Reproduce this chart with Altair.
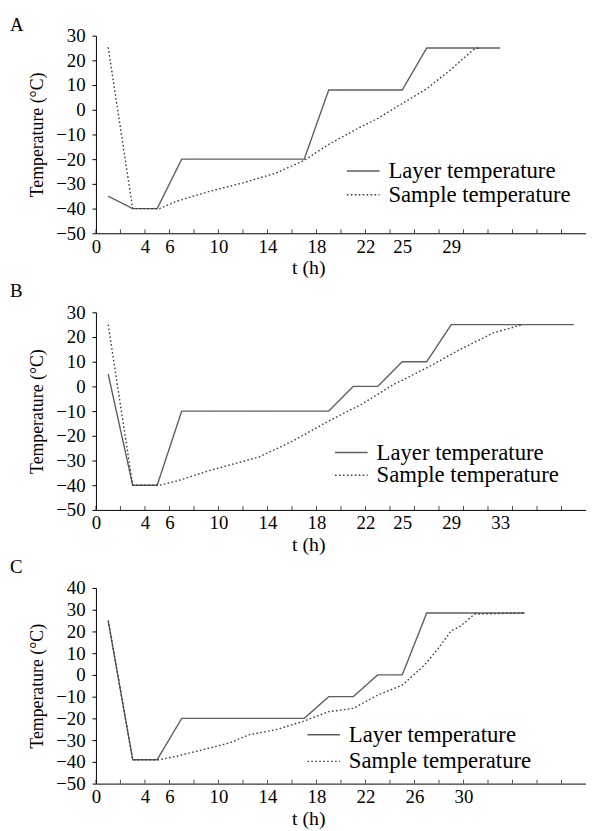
import altair as alt
import pandas as pd

FONT = "Liberation Serif"
SERIES = ["Layer temperature", "Sample temperature"]
TICK_HOURS = list(range(0, 40, 2))

# ---- Panel A ----
a_layer_t = [1, 3, 5, 7, 17, 19, 25, 27, 33]
a_layer_T = [-35, -40, -40, -20, -20, 8, 8, 25, 25]
a_sample_t = [1, 3, 5.2, 6.6, 9.3, 12, 14.7, 17, 19, 21.7, 23, 25, 27, 28.9, 30.8, 31.2]
a_sample_T = [25.3, -40, -40, -37, -33, -29.6, -25.6, -20.5, -14, -6.7, -3.5, 2.5, 8.5, 16, 24.3, 25]
a_xlabels = [0, 4, 6, 10, 14, 18, 22, 25, 29]

# ---- Panel B ----
b_layer_t = [1, 3, 5, 7, 19, 21, 23, 25, 27, 29, 39]
b_layer_T = [5, -40, -40, -10, -10, 0, 0, 10, 10, 25, 25]
b_sample_t = [1, 3, 5.2, 6.6, 9.3, 13.3, 16, 19, 21.7, 24.3, 27, 29.7, 32.4, 34.8]
b_sample_T = [25, -40, -40, -38.3, -34, -28.6, -22.3, -14, -7.2, 0.8, 7.5, 14.9, 21.6, 25]
b_xlabels = [0, 4, 6, 10, 14, 18, 22, 25, 29, 33]

# ---- Panel C ----
c_layer_t = [1, 3, 5, 7, 17, 19, 21, 23, 25, 27, 35]
c_layer_T = [25, -39, -39, -20, -20, -10, -10, 0, 0, 28.5, 28.5]
c_sample_t = [1, 3, 5.2, 6.6, 9.3, 10.9, 12.5, 14.7, 16.9, 19, 21, 23, 25, 26.8, 27.9, 29, 29.8, 30.9, 35]
c_sample_T = [25, -39, -39, -37.4, -33.6, -31.3, -27.5, -25.2, -21.4, -16.9, -15.4, -9.3, -4.7, 4.4, 11.9, 20.3, 22.6, 28, 28.5]
c_xlabels = [0, 4, 6, 10, 14, 18, 22, 26, 30]

W = 496


def panel(letter, lt, lT, st, sT, ydom, xlabels, H, legx, legy, rowh, toff):
    df = pd.DataFrame({
        "t": lt + st,
        "T": lT + sT,
        "series": [SERIES[0]] * len(lt) + [SERIES[1]] * len(st),
        "idx": list(range(len(lt))) + list(range(len(st))),
    })
    ticks_df = pd.DataFrame({"t": TICK_HOURS, "T": [ydom[0]] * len(TICK_HOURS)})
    yvals = list(range(ydom[0], ydom[1] + 1, 10))
    x = alt.X("t:Q", scale=alt.Scale(domain=[0, 40], nice=False, zero=False),
              axis=alt.Axis(values=xlabels, ticks=False, tickSize=0, labelPadding=4,
                            labelFont=FONT, labelFontSize=19, labelColor="black",
                            title="t (h)", titleX=215, titlePadding=2, titleFontSize=20,
                            titleFont=FONT, titleColor="black", titleFontWeight="normal",
                            labelFlush=False, labelOverlap=False))
    y = alt.Y("T:Q", scale=alt.Scale(domain=ydom, nice=False, zero=False),
              axis=alt.Axis(values=yvals, tickSize=4, labelPadding=7, format="d",
                            labelFont=FONT, labelFontSize=19, labelColor="black",
                            title="Temperature (°C)", titlePadding=9, titleFontSize=18,
                            titleFont=FONT, titleColor="black", titleFontWeight="normal",
                            labelFlush=False, labelOverlap=False))
    leg = alt.Legend(orient="none", legendX=legx, legendY=legy, title=None,
                     symbolType="stroke", symbolSize=1089, symbolStrokeWidth=1.5,
                     labelOffset=8, rowPadding=0, clipHeight=rowh, labelFontSize=23,
                     labelFont=FONT, labelColor="black", labelLimit=400)
    lines = alt.Chart(df).mark_line(strokeWidth=1.4).encode(
        x=x, y=y,
        color=alt.Color("series:N", scale=alt.Scale(domain=SERIES, range=["#5e5e5e", "#3a3a3a"]), legend=leg),
        strokeDash=alt.StrokeDash("series:N", scale=alt.Scale(domain=SERIES, range=[[1, 0], [1.6, 2.4]]), legend=leg),
        order="idx:Q",
    )
    ticks = alt.Chart(ticks_df).mark_tick(
        orient="vertical", size=4, thickness=1, color="black", yOffset=-2
    ).encode(x=x, y=y)
    return alt.layer(lines, ticks).properties(
        width=W, height=H,
        title=alt.TitleParams(letter, anchor="start", frame="group", dx=-87, offset=toff,
                              font=FONT, fontSize=19, fontWeight="normal", color="black"),
    )


pA = panel("A", a_layer_t, a_layer_T, a_sample_t, a_sample_T, [-50, 30], a_xlabels, 200, 253, 125, 24, -8)
pB = panel("B", b_layer_t, b_layer_T, b_sample_t, b_sample_T, [-50, 30], b_xlabels, 200, 241, 131, 22, 3)
pC = panel("C", c_layer_t, c_layer_T, c_sample_t, c_sample_T, [-50, 40], c_xlabels, 198, 213, 135, 27, 2)

chart = alt.vconcat(pA, pB, pC, spacing=4).resolve_scale(
    x="independent", y="independent", color="independent", strokeDash="independent"
).resolve_legend(color="independent", strokeDash="independent").properties(
    padding={"left": 2, "top": 3, "right": 0, "bottom": 0}
).configure_axis(
    labelFont=FONT, titleFont=FONT, labelFontSize=19, labelColor="black", titleColor="black",
    domainColor="black", tickColor="black", grid=False, titleFontWeight="normal", domainWidth=1
).configure_view(stroke=None)

chart.save("out.html", embed_options={"renderer": "svg", "actions": False})
